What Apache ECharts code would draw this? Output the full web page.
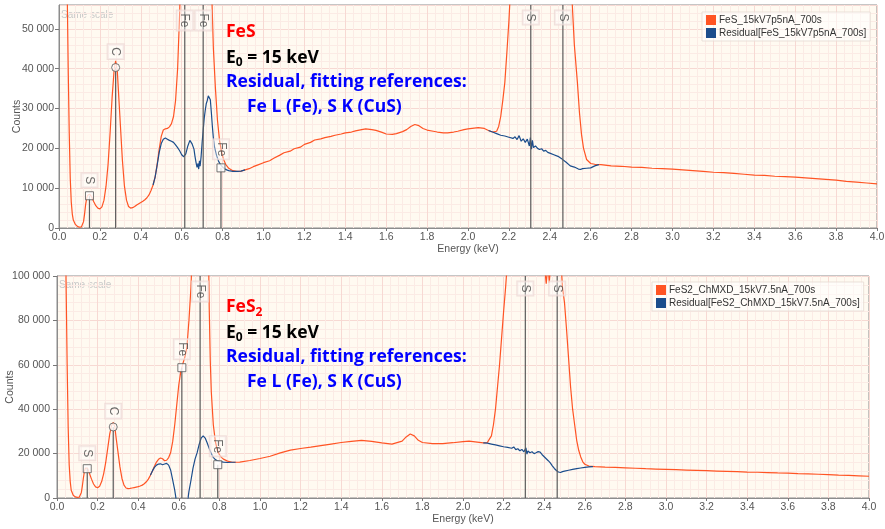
<!DOCTYPE html>
<html>
<head>
<meta charset="utf-8">
<script src="https://cdn.jsdelivr.net/npm/echarts@6/dist/echarts.min.js"></script>
<style>
  html, body { margin: 0; padding: 0; background: #ffffff; }
  #chart { width: 885px; height: 529px; }
</style>
</head>
<body>
<div id="chart"></div>
<script>
// ---- EDS spectra, [energy keV, counts] ----
const fesName = 'FeS_15kV7p5nA_700s';
const fesResidualName = 'Residual[FeS_15kV7p5nA_700s]';
const fes2Name = 'FeS2_ChMXD_15kV7.5nA_700s';
const fes2ResidualName = 'Residual[FeS2_ChMXD_15kV7.5nA_700s]';

const fesSpectrum = [
  [0.00, 95000], [0.02, 90000], [0.03, 78000], [0.04, 60000], [0.045, 40000], [0.05, 24000], [0.055, 12500],
  [0.06, 6500], [0.065, 3500], [0.07, 2000], [0.08, 900], [0.09, 400], [0.10, 200], [0.11, 300], [0.115, 700],
  [0.12, 1600], [0.125, 3500], [0.13, 5800], [0.135, 7400], [0.14, 8200], [0.15, 8500], [0.16, 7800], [0.17, 6600],
  [0.18, 5600], [0.19, 5000], [0.20, 4800], [0.21, 5300], [0.22, 7000], [0.23, 10500], [0.24, 16000], [0.25, 24000],
  [0.26, 33000], [0.27, 40000], [0.277, 42000], [0.285, 39500], [0.29, 35000], [0.30, 26000], [0.31, 17000],
  [0.32, 10500], [0.33, 7000], [0.34, 5400], [0.35, 5000], [0.36, 5100], [0.37, 5400], [0.38, 5800], [0.39, 6100],
  [0.40, 6400], [0.41, 6700], [0.42, 7100], [0.43, 7600], [0.44, 8300], [0.45, 9400], [0.46, 10800], [0.47, 12800],
  [0.48, 16000], [0.49, 19800], [0.50, 23000], [0.51, 24600], [0.52, 24900], [0.53, 25000], [0.54, 25400],
  [0.55, 26200], [0.56, 28000], [0.57, 32000], [0.58, 40000], [0.59, 54000], [0.60, 75000], [0.62, 110000],
  [0.65, 130000], [0.70, 160000], [0.72, 140000], [0.735, 95000], [0.745, 62000], [0.755, 45000], [0.765, 35000],
  [0.775, 27000], [0.785, 22000], [0.795, 19000], [0.805, 17200], [0.815, 16000], [0.83, 15000], [0.85, 14400],
  [0.87, 14200], [0.89, 14300], [0.91, 14600], [0.93, 14900], [0.95, 15400], [0.97, 15800], [1.00, 16400],
  [1.03, 16900], [1.05, 17500], [1.08, 18300], [1.10, 18900], [1.13, 19300], [1.15, 19900], [1.18, 20300],
  [1.20, 21000], [1.23, 21500], [1.25, 22100], [1.28, 22400], [1.30, 22700], [1.33, 23000], [1.35, 23300],
  [1.38, 23600], [1.40, 23900], [1.43, 24100], [1.45, 24400], [1.48, 24700], [1.50, 24900], [1.53, 24700],
  [1.55, 24500], [1.58, 24000], [1.60, 23600], [1.63, 23500], [1.65, 23700], [1.68, 24200], [1.70, 24700],
  [1.72, 25500], [1.74, 26000], [1.76, 25700], [1.78, 25000], [1.80, 24600], [1.83, 24300], [1.85, 24100],
  [1.88, 23900], [1.90, 23900], [1.93, 24100], [1.95, 24300], [1.98, 24700], [2.00, 24900], [2.03, 25100],
  [2.05, 25200], [2.08, 25000], [2.10, 24500], [2.12, 24100], [2.14, 24300], [2.15, 25500], [2.16, 28000],
  [2.17, 32000], [2.18, 36500], [2.19, 44000], [2.20, 52000], [2.21, 62000], [2.23, 100000], [2.27, 220000],
  [2.31, 320000], [2.36, 180000], [2.40, 95000], [2.43, 80000], [2.465, 150000], [2.49, 110000], [2.50, 75000],
  [2.51, 56000], [2.52, 46000], [2.535, 36500], [2.545, 29000], [2.555, 23500], [2.565, 20000], [2.58, 17200],
  [2.60, 16200], [2.62, 16000], [2.65, 15900], [2.70, 15600], [2.75, 15500], [2.80, 15300], [2.85, 15200],
  [2.90, 15000], [2.95, 14900], [3.00, 14800], [3.05, 14600], [3.10, 14400], [3.15, 14200], [3.20, 14000],
  [3.25, 13900], [3.30, 13700], [3.35, 13500], [3.40, 13300], [3.45, 13200], [3.50, 13000], [3.55, 12900],
  [3.60, 12800], [3.65, 12600], [3.70, 12400], [3.75, 12200], [3.80, 12000], [3.85, 11700], [3.90, 11500],
  [3.95, 11300], [4.00, 11100]
];

// residual after subtracting the Fe L and S K reference fits (shown where it departs from the spectrum)
const fesResidual = [
  [0.46, 10800], [0.47, 12800], [0.48, 15800], [0.49, 19000], [0.50, 21200], [0.51, 22300], [0.515, 22800],
  [0.52, 22600], [0.53, 22300], [0.54, 22000], [0.55, 21800], [0.56, 21500], [0.57, 20900], [0.58, 20200],
  [0.59, 19400], [0.60, 18400], [0.61, 17900], [0.62, 18600], [0.63, 20600], [0.64, 22000], [0.645, 22500],
  [0.65, 21200], [0.66, 19800], [0.665, 18000], [0.67, 16500], [0.675, 15200], [0.68, 16200], [0.683, 14800],
  [0.687, 16900], [0.69, 15500], [0.695, 18000], [0.70, 21500], [0.705, 24500], [0.71, 27500], [0.715, 29500],
  [0.72, 31200], [0.725, 32000], [0.73, 33200], [0.735, 33600], [0.74, 32200], [0.745, 29000], [0.75, 25500],
  [0.755, 22500], [0.76, 20500], [0.77, 18300], [0.78, 16800], [0.79, 15900], [0.80, 15300], [0.81, 14900],
  [0.82, 14600], [0.83, 14400], [0.85, 14200], [0.87, 14200], [0.89, 14300], [0.91, 14600],
  [1.50, '-'],
  [2.10, 24500], [2.12, 24100], [2.14, 23700], [2.16, 23300], [2.18, 23100], [2.20, 22800], [2.22, 22500],
  [2.23, 22900], [2.24, 22200], [2.25, 23200], [2.26, 21800], [2.27, 22400], [2.28, 21500], [2.29, 22300],
  [2.30, 20600], [2.305, 22700], [2.31, 19800], [2.315, 22000], [2.32, 20200], [2.33, 20600], [2.34, 20000],
  [2.35, 19700], [2.36, 19900], [2.37, 19300], [2.38, 19500], [2.39, 19000], [2.40, 18800], [2.42, 18400],
  [2.44, 18000], [2.46, 17300], [2.48, 16500], [2.50, 15600], [2.52, 15300], [2.54, 14800], [2.55, 14700],
  [2.56, 14900], [2.58, 15000], [2.60, 15100], [2.62, 15600], [2.64, 15900]
];

const fes2Spectrum = [
  [0.00, 250000], [0.02, 200000], [0.04, 130000], [0.045, 95000], [0.05, 60000], [0.055, 32000], [0.06, 15000],
  [0.065, 7500], [0.07, 3500], [0.08, 1200], [0.09, 500], [0.10, 300], [0.11, 400], [0.115, 900], [0.12, 2500],
  [0.125, 5500], [0.13, 9000], [0.135, 12000], [0.14, 13500], [0.145, 13900], [0.15, 13500], [0.16, 11000],
  [0.17, 8500], [0.18, 6300], [0.19, 5000], [0.20, 4600], [0.21, 5300], [0.22, 7400], [0.23, 11000], [0.24, 16000],
  [0.25, 22500], [0.26, 29000], [0.27, 33000], [0.277, 34000], [0.285, 32000], [0.29, 28000], [0.30, 21000],
  [0.31, 14000], [0.32, 8800], [0.33, 5800], [0.34, 4500], [0.35, 4200], [0.36, 4300], [0.37, 4500], [0.38, 4700],
  [0.39, 4900], [0.40, 5100], [0.41, 5400], [0.42, 5800], [0.43, 6400], [0.44, 7300], [0.45, 8500], [0.46, 10200],
  [0.47, 12200], [0.48, 14300], [0.49, 16200], [0.50, 17400], [0.51, 18000], [0.52, 17700], [0.53, 16800],
  [0.54, 17000], [0.55, 18200], [0.56, 20500], [0.57, 25500], [0.58, 33000], [0.59, 42000], [0.60, 51000],
  [0.61, 57000], [0.62, 60500], [0.63, 63500], [0.64, 68000], [0.65, 80000], [0.66, 95000], [0.67, 120000],
  [0.70, 250000], [0.73, 200000], [0.745, 120000], [0.75, 85000], [0.755, 62000], [0.76, 48000], [0.77, 33000],
  [0.78, 25500], [0.79, 21500], [0.80, 19500], [0.81, 18300], [0.82, 17500], [0.84, 16600], [0.86, 16200],
  [0.88, 16100], [0.90, 16200], [0.95, 16900], [1.00, 17800], [1.05, 18800], [1.10, 20300], [1.15, 21600],
  [1.20, 22300], [1.25, 22900], [1.30, 23600], [1.35, 24300], [1.40, 25000], [1.45, 25500], [1.50, 26000],
  [1.55, 25500], [1.60, 24800], [1.65, 24300], [1.70, 25600], [1.72, 27500], [1.74, 28800], [1.76, 28000],
  [1.78, 26000], [1.80, 25000], [1.85, 24500], [1.90, 24500], [1.95, 24900], [2.00, 25400], [2.03, 25600],
  [2.06, 25300], [2.10, 24800], [2.12, 25000], [2.13, 26500], [2.14, 28000], [2.15, 33000], [2.16, 40000],
  [2.17, 50000], [2.18, 60000], [2.19, 72000], [2.20, 84000], [2.21, 95000], [2.22, 108000], [2.25, 200000],
  [2.30, 500000], [2.36, 180000], [2.39, 115000], [2.405, 101000], [2.41, 96500], [2.415, 102000], [2.42, 104000],
  [2.425, 97000], [2.43, 103000], [2.44, 130000], [2.465, 300000], [2.48, 110000], [2.49, 95000], [2.50, 88000],
  [2.51, 76000], [2.52, 63000], [2.53, 50000], [2.54, 40000], [2.55, 33000], [2.56, 26000], [2.57, 21500],
  [2.58, 18500], [2.59, 16300], [2.60, 15200], [2.62, 14400], [2.65, 14100], [2.70, 13900], [2.75, 13800],
  [2.80, 13600], [2.85, 13400], [2.90, 13200], [2.95, 13050], [3.00, 12900], [3.05, 12750], [3.10, 12600],
  [3.15, 12450], [3.20, 12300], [3.25, 12150], [3.30, 12000], [3.35, 11850], [3.40, 11700], [3.45, 11600],
  [3.50, 11450], [3.55, 11300], [3.60, 11200], [3.65, 11000], [3.70, 10850], [3.75, 10700], [3.80, 10500],
  [3.85, 10300], [3.90, 10150], [3.95, 10000], [4.00, 9800]
];

const fes2Residual = [
  [0.46, 10200], [0.47, 12200], [0.48, 13800], [0.49, 14800], [0.50, 15300], [0.51, 15400], [0.52, 15000],
  [0.53, 15300], [0.54, 15600], [0.55, 14800], [0.56, 12500], [0.57, 8000], [0.58, 3500], [0.585, 500],
  [0.59, -3000], [0.60, -10000], [0.63, -15000], [0.64, -5000], [0.645, -500], [0.65, 3000], [0.66, 8000],
  [0.67, 13500], [0.68, 17500], [0.69, 20300], [0.70, 24000], [0.71, 27000], [0.715, 27800], [0.72, 28000],
  [0.725, 27300], [0.73, 27000], [0.74, 24800], [0.75, 22300], [0.76, 20000], [0.77, 18300], [0.78, 17300],
  [0.79, 16800], [0.80, 16500], [0.82, 16200], [0.84, 16000], [0.86, 16100], [0.88, 16100],
  [1.50, '-'],
  [2.10, 24800], [2.12, 24700], [2.14, 24300], [2.16, 23900], [2.18, 23500], [2.20, 23100], [2.22, 22800],
  [2.24, 22400], [2.25, 23000], [2.26, 21800], [2.27, 22200], [2.28, 21300], [2.29, 21900], [2.30, 20800],
  [2.305, 20000], [2.31, 22600], [2.315, 19800], [2.32, 21200], [2.33, 20400], [2.34, 20800], [2.35, 20000],
  [2.36, 20400], [2.37, 20900], [2.375, 20300], [2.38, 20700], [2.39, 19500], [2.40, 18600], [2.41, 17700],
  [2.42, 16800], [2.43, 15800], [2.44, 14500], [2.45, 13300], [2.46, 12400], [2.47, 11700], [2.48, 11500],
  [2.49, 11900], [2.50, 12100], [2.52, 12500], [2.54, 12900], [2.56, 13200], [2.58, 13500], [2.60, 13800],
  [2.62, 14000], [2.64, 14100]
];

// ---- element line markers (energy keV, label, marker height or null for full height, symbol) ----
const markerEnergy = [0.149, 0.277, 0.615, 0.705, 0.792, 2.307, 2.464];
const markerElement = ['S', 'C', 'Fe', 'Fe', 'Fe', 'S', 'S'];
const markerSymbol = ['rect', 'circle', 'rect', 'rect', 'rect', 'rect', 'rect'];
const fesMarkerHeight = [8100, 40300, null, null, 15100, null, null];
const fes2MarkerHeight = [13200, 32000, 58700, null, 15000, null, null];

// ---- axes ----
const energyMax = 4.0;
const energyStep = 0.2;
const fesCountsMax = 56000;
const fesCountsStep = 10000;
const fes2CountsMax = 100000;
const fes2CountsStep = 20000;

// ---- styling ----
const ORANGE = '#ff5424';
const BLUE = '#1b4d8c';
const GRID_MAJOR = '#f7d9d3';
const GRID_MINOR = '#fbebe5';
const PLOT_BG = '#fffaf1';
const FRAME = '#8c8c8c';
const TICK_FONT = 'Liberation Sans';
const NOTE_FONT = 'Open Sans';

const fmtCounts = v => String(Math.round(v)).replace(/\B(?=(\d{3})+(?!\d))/g, ' ');

function xAxisFor(gridIndex) {
  return {
    type: 'value', gridIndex, min: 0, max: energyMax, interval: energyStep, position: 'bottom',
    name: 'Energy (keV)', nameLocation: 'middle', nameGap: 15,
    nameTextStyle: { fontSize: 10.5, color: '#555', fontFamily: TICK_FONT },
    axisLine: { show: true, lineStyle: { color: FRAME } },
    axisTick: { show: true, length: 3, lineStyle: { color: '#777' } },
    axisLabel: { formatter: v => v.toFixed(1), fontSize: 10.5, color: '#555', fontFamily: TICK_FONT, margin: 4 },
    splitLine: { show: true, lineStyle: { color: GRID_MAJOR, width: 1 } },
    minorTick: { show: false, splitNumber: 5 },
    minorSplitLine: { show: true, lineStyle: { color: GRID_MINOR, width: 1 } }
  };
}

function yAxisFor(gridIndex, max, step, labelMargin, nameGap) {
  return {
    type: 'value', gridIndex, min: 0, max, interval: step, position: 'left',
    name: 'Counts', nameLocation: 'middle', nameGap, nameMoveOverlap: false,
    nameTextStyle: { fontSize: 10.5, color: '#555', fontFamily: TICK_FONT },
    axisLine: { show: true, lineStyle: { color: FRAME } },
    axisTick: { show: true, length: 4, lineStyle: { color: '#777' } },
    axisLabel: { formatter: fmtCounts, fontSize: 10.5, color: '#555', fontFamily: TICK_FONT, margin: labelMargin, showMaxLabel: max % step === 0 },
    splitLine: { show: true, lineStyle: { color: GRID_MAJOR, width: 1 } },
    minorTick: { show: false, splitNumber: 5 },
    minorSplitLine: { show: max % step === 0, lineStyle: { color: GRID_MINOR, width: 1 } }
  };
}

// fine horizontal grid for the upper panel, whose max is not a whole major step
function minorGridAxis(gridIndex, max, step) {
  return {
    type: 'value', gridIndex, min: 0, max, interval: step, position: 'left', show: true,
    axisLine: { show: false }, axisTick: { show: false }, axisLabel: { show: false },
    splitLine: { show: true, lineStyle: { color: ['rgba(0,0,0,0)', GRID_MINOR, GRID_MINOR, GRID_MINOR, GRID_MINOR] } }
  };
}

function spectrumSeries(name, data, xi, yi, color, z) {
  return {
    type: 'line', name, data, xAxisIndex: xi, yAxisIndex: yi,
    symbol: 'none', showSymbol: false, connectNulls: false, clip: true,
    lineStyle: { color, width: 1.2 }, itemStyle: { color }, z, animation: false
  };
}

function markerSeries(xi, yi, heights, axisMax) {
  const stems = [];
  markerEnergy.forEach((e, i) => {
    stems.push([e, 0], [e, heights[i] == null ? axisMax : heights[i]], [e, '-']);
  });
  const heads = markerEnergy.map((e, i) => {
    const full = heights[i] == null;
    return {
      value: [e, full ? axisMax : heights[i]],
      symbol: full ? 'circle' : markerSymbol[i],
      symbolSize: full ? 1 : 8,
      itemStyle: full ? { color: 'rgba(0,0,0,0)', borderWidth: 0 } : { color: '#ffffff', borderColor: '#555', borderWidth: 1 },
      label: {
        show: true, formatter: markerElement[i], rotate: -90,
        position: full ? 'bottom' : 'top', distance: full ? 5 : 4,
        align: full ? 'left' : 'right', verticalAlign: 'middle',
        fontSize: 12, color: '#444', fontFamily: TICK_FONT,
        backgroundColor: 'rgba(255,255,255,0.45)', borderColor: 'rgba(236,214,210,0.9)', borderWidth: 1,
        padding: [2, 3, 2, 3]
      }
    };
  });
  return [
    { type: 'line', data: stems, xAxisIndex: xi, yAxisIndex: yi, symbol: 'none', connectNulls: false,
      lineStyle: { color: '#5a5a5a', width: 1.2 }, z: 4, silent: true, animation: false, clip: true },
    { type: 'scatter', data: heads, xAxisIndex: xi, yAxisIndex: yi, z: 5, silent: true, animation: false, clip: false }
  ];
}

// annotation lines: each is a small title block; {s|..} renders a subscript
const NOTE_SIZE = 17.5;
const noteRich = {
  m: { fontFamily: NOTE_FONT, fontWeight: 'bold', fontSize: NOTE_SIZE, lineHeight: 22 },
  s: { fontFamily: NOTE_FONT, fontWeight: 'bold', fontSize: 12, lineHeight: 12, verticalAlign: 'bottom' }
};

function noteLine(x, centerY, text, color) {
  return {
    text, left: x, top: centerY - 11, padding: 0, itemGap: 0,
    textStyle: { color, fontFamily: NOTE_FONT, fontWeight: 'bold', fontSize: NOTE_SIZE, lineHeight: 22,
      rich: {
        m: Object.assign({ color }, noteRich.m),
        s: Object.assign({ color }, noteRich.s)
      } }
  };
}

function noteBlock(centerTop, titleSub) {
  return [
    noteLine(226, centerTop, titleSub ? `{m|FeS}{s|${titleSub}}` : '{m|FeS}', '#ff0000'),
    noteLine(226, centerTop + 25.5, '{m|E}{s|0}{m| = 15 keV}', '#000000'),
    noteLine(226, centerTop + 50, '{m|Residual, fitting references:}', '#0000ff'),
    noteLine(247, centerTop + 75, '{m|Fe L (Fe), S K (CuS)}', '#0000ff')
  ];
}

const legendStyle = {
  orient: 'vertical', icon: 'rect', itemWidth: 10, itemHeight: 10, itemGap: 3,
  textStyle: { fontSize: 10, color: '#333', fontFamily: TICK_FONT, padding: [0, 0, 0, -2] },
  backgroundColor: 'rgba(255,255,255,0.55)', borderColor: 'rgba(232,222,214,0.9)', borderWidth: 1,
  padding: [3, 4, 3, 4], selectedMode: false
};

const chart = echarts.init(document.getElementById('chart'), null, { renderer: 'canvas' });
chart.setOption({
  animation: false,
  backgroundColor: '#ffffff',
  title: [
    ...noteBlock(32.5, null),
    ...noteBlock(307.3, '2')
  ],
  grid: [
    { left: 59, top: 5, width: 818, height: 223, show: true, backgroundColor: PLOT_BG, borderColor: FRAME, borderWidth: 1,
      containLabel: false, outerBoundsMode: 'none' },
    { left: 57, top: 276, width: 812, height: 222, show: true, backgroundColor: PLOT_BG, borderColor: FRAME, borderWidth: 1,
      containLabel: false, outerBoundsMode: 'none' }
  ],
  xAxis: [xAxisFor(0), xAxisFor(1)],
  yAxis: [
    minorGridAxis(0, fesCountsMax, fesCountsStep / 5),
    yAxisFor(0, fesCountsMax, fesCountsStep, 5, 36),
    yAxisFor(1, fes2CountsMax, fes2CountsStep, 7, 41)
  ],
  legend: [
    Object.assign({ left: 702, top: 12, data: [fesName, fesResidualName] }, legendStyle),
    Object.assign({ left: 652, top: 282, data: [fes2Name, fes2ResidualName] }, legendStyle)
  ],
  graphic: [
    { type: 'text', x: 61, y: 15, silent: true, style: { text: 'Same scale', fontSize: 10, fontFamily: TICK_FONT, fill: '#c9c9c9', verticalAlign: 'middle' } },
    { type: 'text', x: 59, y: 285, silent: true, style: { text: 'Same scale', fontSize: 10, fontFamily: TICK_FONT, fill: '#c9c9c9', verticalAlign: 'middle' } }
  ],
  series: [
    spectrumSeries(fesName, fesSpectrum, 0, 1, ORANGE, 2),
    spectrumSeries(fesResidualName, fesResidual, 0, 1, BLUE, 3),
    ...markerSeries(0, 1, fesMarkerHeight, fesCountsMax),
    spectrumSeries(fes2Name, fes2Spectrum, 1, 2, ORANGE, 2),
    spectrumSeries(fes2ResidualName, fes2Residual, 1, 2, BLUE, 3),
    ...markerSeries(1, 2, fes2MarkerHeight, fes2CountsMax)
  ]
});
</script>
</body>
</html>
